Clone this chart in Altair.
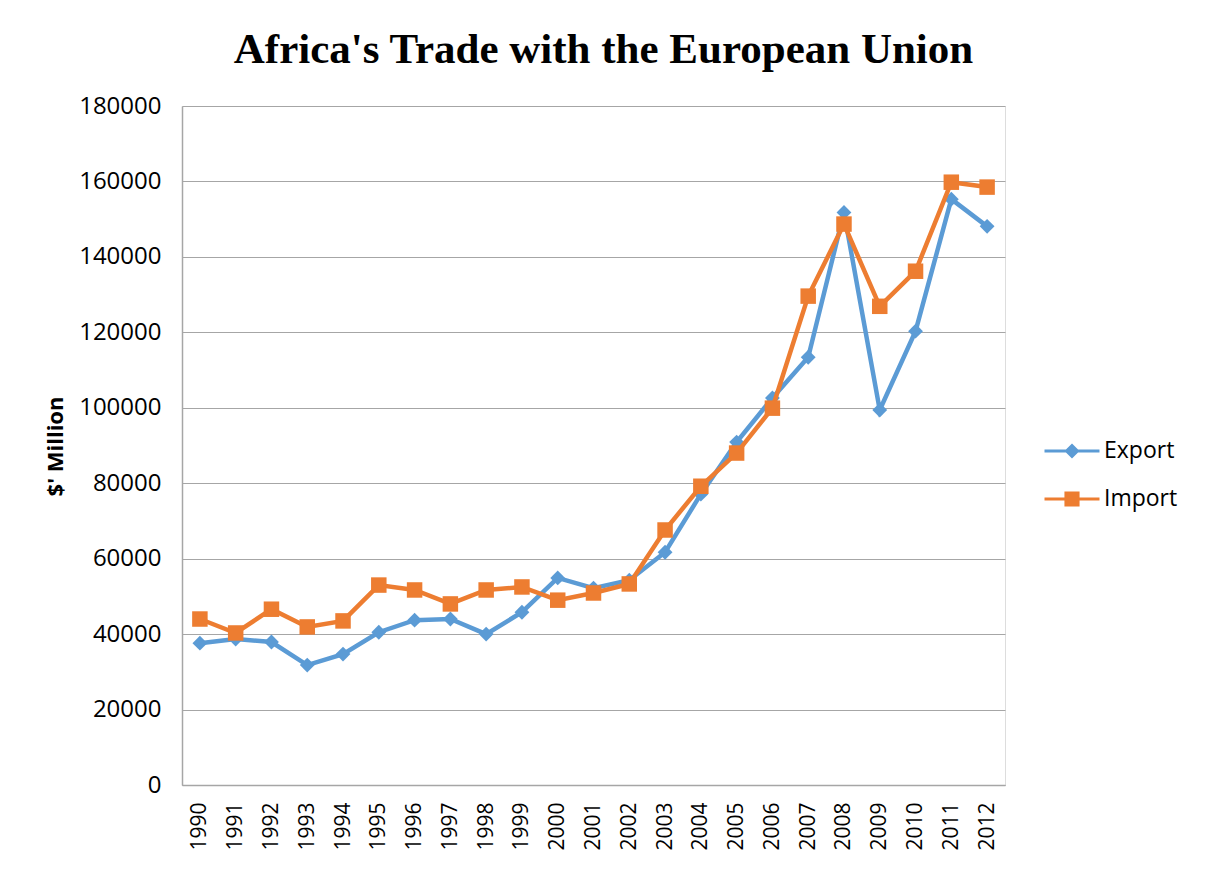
import altair as alt
import pandas as pd

years = [str(y) for y in range(1990, 2013)]
export_vals = [37600, 38700, 37900, 31800, 34700, 40500, 43700, 44000, 40000, 45800,
               54900, 52200, 54300, 61700, 77100, 90900, 102600, 113400, 151800, 99400,
               120300, 155300, 148100]
import_vals = [44000, 40300, 46600, 41900, 43500, 53000, 51700, 48000, 51700, 52500,
               49000, 50900, 53300, 67600, 79200, 88000, 99900, 129600, 148700, 126900,
               136200, 159800, 158500]
series = ["Export", "Import"]
colors = ["#5B9BD5", "#ED7D31"]
y_ticks = [0, 20000, 40000, 60000, 80000, 100000, 120000, 140000, 160000, 180000]

rows = []
for s, vals in zip(series, [export_vals, import_vals]):
    for y, v in zip(years, vals):
        rows.append({"Year": y, "Value": v, "Series": s})
df = pd.DataFrame(rows)

# legend-only data: no valid y value, so nothing is drawn in the plot
legend_df = pd.DataFrame({"Series": series, "Year": [years[0], years[0]],
                          "Value": [None, None]})

FONT = "Open Sans"

legend_paths = [
    "M-2,-0.11L2,-0.11L2,0.11L-2,0.11Z M0,-0.55L0.55,0L0,0.55L-0.55,0Z",
    "M-2,-0.11L2,-0.11L2,0.11L-2,0.11Z M-0.55,-0.55L0.55,-0.55L0.55,0.55L-0.55,0.55Z",
]

x_enc = alt.X("Year:O", sort=years, title=None,
              axis=alt.Axis(labelAngle=-90, labelAlign="right", labelBaseline="middle",
                            labelPadding=17, ticks=False, labelFontSize=21,
                            labelFont=FONT, labelColor="#000000",
                            domainColor="#a6a6a6", domainWidth=1.5))
y_enc = alt.Y("Value:Q", title="$' Million",
              scale=alt.Scale(domain=[0, 180000], nice=False),
              axis=alt.Axis(values=y_ticks, format="d", ticks=False,
                            labelFontSize=24, labelFont=FONT, labelColor="#000000",
                            labelPadding=21, grid=True, gridColor="#a6a6a6",
                            gridWidth=1.2, domainColor="#a6a6a6", domainWidth=1.5,
                            titleFont=FONT, titleFontSize=22, titleFontWeight="bold",
                            titleColor="#000000", titleAngle=-90, titleX=-127,
                            titleY=340, titleAlign="center", titleBaseline="middle"))

base = alt.Chart(df)
layers = []
for s, c, shp, sz in zip(series, colors, ["diamond", "square"], [220, 240]):
    sub = base.transform_filter(alt.datum.Series == s)
    layers.append(sub.mark_line(strokeWidth=4.5, color=c).encode(x=x_enc, y=y_enc))
    layers.append(sub.mark_point(filled=True, opacity=1, shape=shp, size=sz, color=c).encode(
        x=alt.X("Year:O", sort=years), y=alt.Y("Value:Q")))

legend_props = dict(orient="none", legendX=876, legendY=331, title=None,
                    labelFont=FONT, labelFontSize=23, labelColor="#000000",
                    symbolOpacity=1, symbolSize=756, symbolStrokeWidth=0,
                    rowPadding=22, labelOffset=18)

legend_layer = alt.Chart(legend_df).mark_point(filled=True, opacity=1).encode(
    x=alt.X("Year:O", sort=years),
    y=alt.Y("Value:Q"),
    color=alt.Color("Series:N", scale=alt.Scale(domain=series, range=colors), title=None,
                    legend=alt.Legend(**legend_props)),
    shape=alt.Shape("Series:N", scale=alt.Scale(domain=series, range=legend_paths),
                    title=None, legend=alt.Legend(**legend_props)),
)
layers.append(legend_layer)

chart = alt.layer(*layers).properties(
    width=823,
    height=679,
    title=alt.Title("Africa's Trade with the European Union", font="Liberation Serif",
                    fontSize=43, fontWeight="bold", color="#000000", anchor="middle",
                    offset=22, dx=10),
    autosize=alt.AutoSizeParams(type="none"),
    padding={"left": 174, "top": 98, "right": 184, "bottom": 70},
).configure_view(stroke=None).configure(background="#ffffff")

chart.save("out.html", embed_options={"renderer": "svg", "actions": False})
